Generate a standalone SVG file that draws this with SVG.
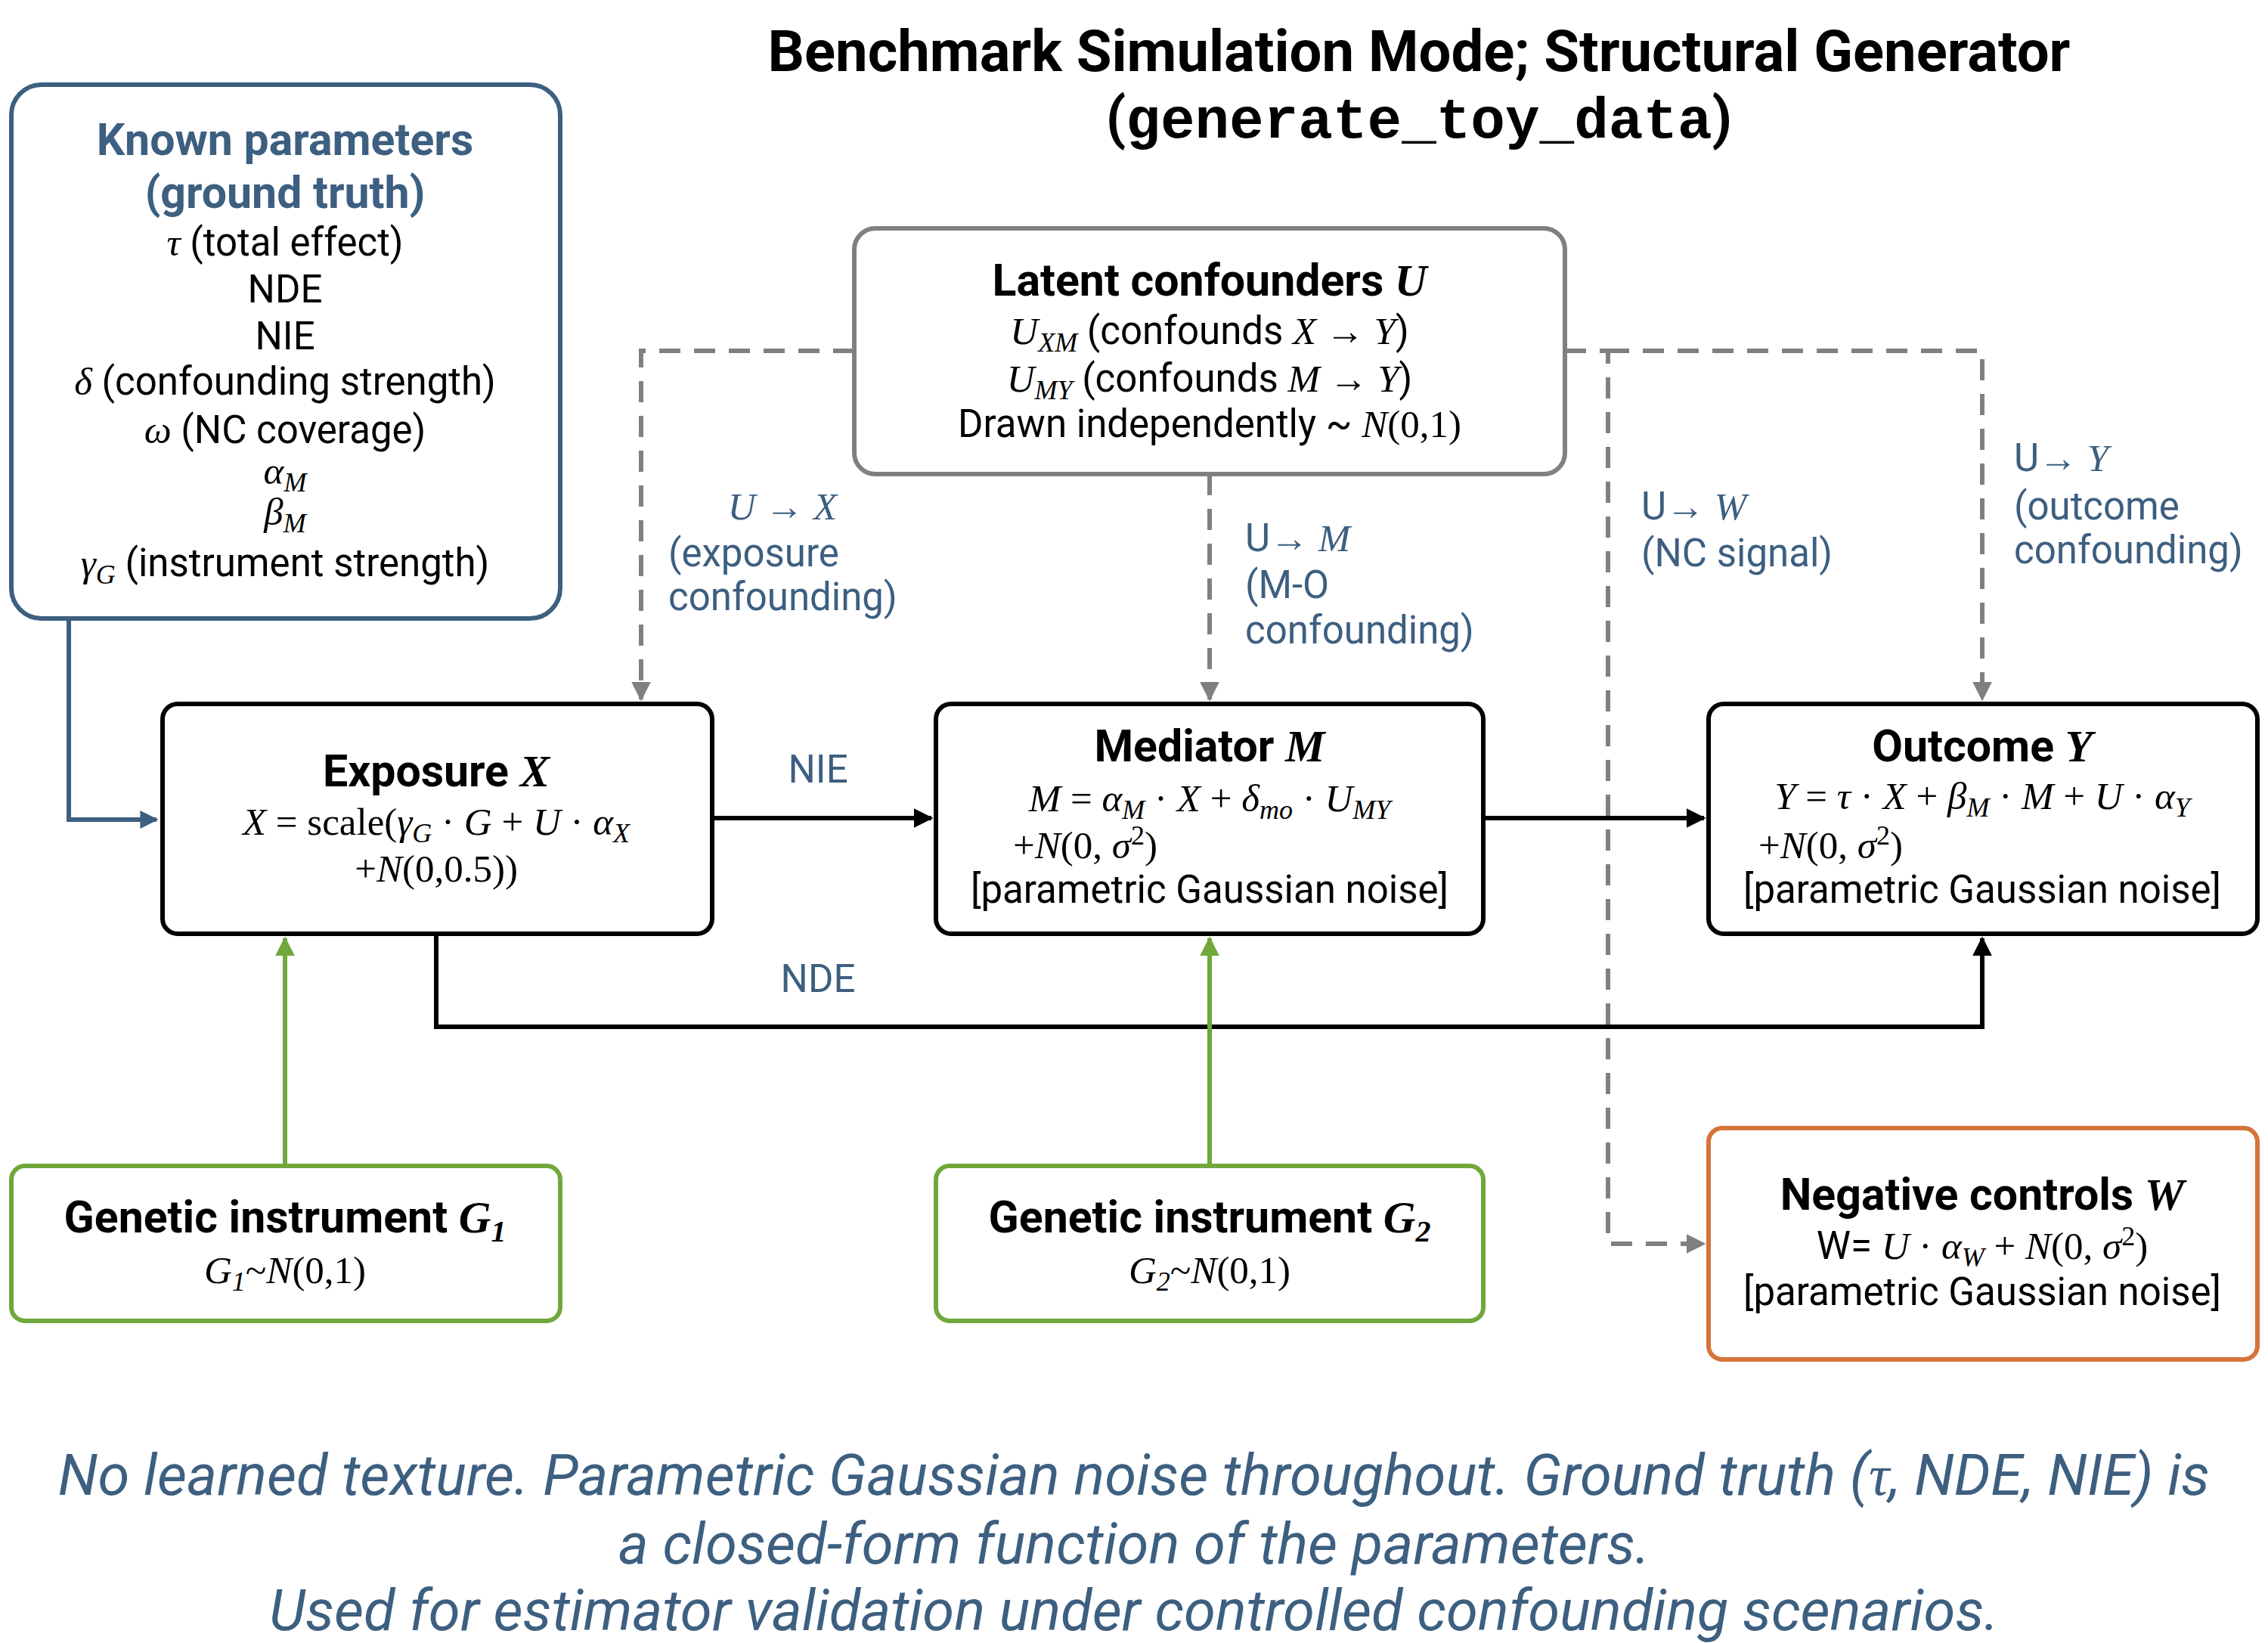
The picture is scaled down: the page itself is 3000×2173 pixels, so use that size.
<svg xmlns="http://www.w3.org/2000/svg" width="3000" height="2173" viewBox="0 0 3000 2173">
<style>
text{font-family:Roboto,"Liberation Sans",sans-serif;font-size:51px;fill:#000;text-anchor:middle}
.m{font-family:"Liberation Serif","DejaVu Serif",serif;font-style:italic}
.n{font-family:"Liberation Serif","DejaVu Serif",serif;font-style:normal}
.b{font-weight:bold;font-size:59px}
.bl{fill:#3d5f80}
.l{text-anchor:start}
.f{font-style:italic;font-size:76px}
.t{font-weight:bold;font-size:76px}
.box{fill:#fff;stroke-width:6}
.ln{fill:none;stroke-width:6}
</style>
<defs>
<marker id="ab" viewBox="0 0 10 10" refX="9" refY="5" markerWidth="24" markerHeight="24" markerUnits="userSpaceOnUse" orient="auto"><path d="M0,0L10,5L0,10z" fill="#3d5f80"/></marker>
<marker id="abk" viewBox="0 0 10 10" refX="9" refY="5" markerWidth="26" markerHeight="26" markerUnits="userSpaceOnUse" orient="auto"><path d="M0,0L10,5L0,10z" fill="#000"/></marker>
<marker id="ag" viewBox="0 0 10 10" refX="9" refY="5" markerWidth="26" markerHeight="26" markerUnits="userSpaceOnUse" orient="auto"><path d="M0,0L10,5L0,10z" fill="#808080"/></marker>
<marker id="agr" viewBox="0 0 10 10" refX="9" refY="5" markerWidth="26" markerHeight="26" markerUnits="userSpaceOnUse" orient="auto"><path d="M0,0L10,5L0,10z" fill="#70a83c"/></marker>
</defs>
<rect width="3000" height="2173" fill="#fff"/>
<g id="title">
<text x="1877" y="94" class="t">Benchmark Simulation Mode; Structural Generator</text>
<text x="1877" y="182" class="t">(<tspan style="font-family:'Liberation Mono',monospace">generate_toy_data</tspan>)</text>
</g>
<g id="connectors">
<path class="ln" d="M91,818V1084H207" stroke="#3d5f80" marker-end="url(#ab)"/>
<path class="ln" d="M1130,464H848V925" stroke="#808080" stroke-dasharray="28,18" marker-end="url(#ag)"/>
<path class="ln" d="M1600,627V925" stroke="#808080" stroke-dasharray="28,18" marker-end="url(#ag)"/>
<path class="ln" d="M2070,464H2127V1645H2254" stroke="#808080" stroke-dasharray="28,18" marker-end="url(#ag)"/>
<path class="ln" d="M2127,464H2622V925" stroke="#808080" stroke-dasharray="28,18" marker-end="url(#ag)"/>
<path class="ln" d="M942,1082H1232" stroke="#000" marker-end="url(#abk)"/>
<path class="ln" d="M1962,1082H2254" stroke="#000" marker-end="url(#abk)"/>
<path class="ln" d="M577,1235V1358H2622V1241" stroke="#000" marker-end="url(#abk)"/>
<path class="ln" d="M377,1542V1241" stroke="#70a83c" stroke-width="5" marker-end="url(#agr)"/>
<path class="ln" d="M1600,1542V1241" stroke="#70a83c" stroke-width="5" marker-end="url(#agr)"/>
<text x="1082" y="1035" class="bl">NIE</text>
<text x="1082" y="1312" class="bl">NDE</text>
<text x="1035" y="687" class="bl"><tspan class="m">U</tspan> → <tspan class="m">X</tspan></text>
<text x="884" y="749" class="bl l">(exposure</text>
<text x="884" y="807" class="bl l">confounding)</text>
<text x="1647" y="729" class="bl l">U→ <tspan class="m">M</tspan></text>
<text x="1647" y="791" class="bl l">(M-O</text>
<text x="1647" y="851" class="bl l">confounding)</text>
<text x="2171" y="687" class="bl l">U→ <tspan class="m">W</tspan></text>
<text x="2171" y="749" class="bl l">(NC signal)</text>
<text x="2664" y="623" class="bl l">U→ <tspan class="m">Y</tspan></text>
<text x="2664" y="687" class="bl l">(outcome</text>
<text x="2664" y="745" class="bl l">confounding)</text>
</g>
<g id="known">
<rect class="box" x="15" y="112" width="726" height="706" rx="40" stroke="#3d5f80"/>
<text x="377" y="205" class="b bl">Known parameters</text>
<text x="377" y="275" class="b bl">(ground truth)</text>
<text x="377" y="338"><tspan class="m">τ</tspan> (total effect)</text>
<text x="377" y="400">NDE</text>
<text x="377" y="462">NIE</text>
<text x="377" y="522"><tspan class="m">δ</tspan> (confounding strength)</text>
<text x="377" y="586"><tspan class="m">ω</tspan> (NC coverage)</text>
<text x="377" y="640" class="m">α<tspan font-size="36" dy="10">M</tspan></text>
<text x="377" y="694" class="m">β<tspan font-size="36" dy="10">M</tspan></text>
<text x="377" y="762"><tspan class="m">γ<tspan font-size="36" dy="10">G</tspan></tspan><tspan dy="-10"> (instrument strength)</tspan></text>
</g>
<g id="latent">
<rect class="box" x="1130" y="302" width="940" height="325" rx="28" stroke="#808080"/>
<text x="1600" y="391" class="b">Latent confounders <tspan class="m">U</tspan></text>
<text x="1600" y="455"><tspan class="m">U<tspan font-size="36" dy="10">XM</tspan></tspan><tspan dy="-10"> (confounds </tspan><tspan class="m">X</tspan> → <tspan class="m">Y</tspan>)</text>
<text x="1600" y="518"><tspan class="m">U<tspan font-size="36" dy="10">MY</tspan></tspan><tspan dy="-10"> (confounds </tspan><tspan class="m">M</tspan> → <tspan class="m">Y</tspan>)</text>
<text x="1600" y="578">Drawn independently ~ <tspan class="m">N</tspan><tspan class="n">(0,1)</tspan></text>
</g>
<g id="exposure">
<rect class="box" x="215" y="931" width="727" height="304" rx="20" stroke="#000"/>
<text x="577" y="1040" class="b">Exposure <tspan class="m">X</tspan></text>
<text x="577" y="1104" class="m">X <tspan class="n">= scale(</tspan>γ<tspan font-size="36" dy="10">G</tspan><tspan dy="-10" class="n"> · </tspan>G <tspan class="n">+</tspan> U <tspan class="n">·</tspan> α<tspan font-size="36" dy="10">X</tspan></text>
<text x="577" y="1166" class="n">+<tspan class="m">N</tspan>(0,0.5))</text>
</g>
<g id="mediator">
<rect class="box" x="1238" y="931" width="724" height="304" rx="20" stroke="#000"/>
<text x="1600" y="1007" class="b">Mediator <tspan class="m">M</tspan></text>
<text x="1600" y="1073" class="m">M <tspan class="n">=</tspan> α<tspan font-size="36" dy="10">M</tspan><tspan dy="-10" class="n"> · </tspan>X <tspan class="n">+</tspan> δ<tspan font-size="36" dy="10">mo</tspan><tspan dy="-10" class="n"> · </tspan>U<tspan font-size="36" dy="10">MY</tspan></text>
<text x="1340" y="1135" class="n l">+<tspan class="m">N</tspan>(0, <tspan class="m">σ</tspan><tspan font-size="36" dy="-18">2</tspan><tspan dy="18">)</tspan></text>
<text x="1600" y="1194">[parametric Gaussian noise]</text>
</g>
<g id="outcome">
<rect class="box" x="2260" y="931" width="726" height="304" rx="20" stroke="#000"/>
<text x="2622" y="1007" class="b">Outcome <tspan class="m">Y</tspan></text>
<text x="2622" y="1070" class="m">Y <tspan class="n">=</tspan> τ <tspan class="n">·</tspan> X <tspan class="n">+</tspan> β<tspan font-size="36" dy="10">M</tspan><tspan dy="-10" class="n"> · </tspan>M <tspan class="n">+</tspan> U <tspan class="n">·</tspan> α<tspan font-size="36" dy="10">Y</tspan></text>
<text x="2326" y="1135" class="n l">+<tspan class="m">N</tspan>(0, <tspan class="m">σ</tspan><tspan font-size="36" dy="-18">2</tspan><tspan dy="18">)</tspan></text>
<text x="2622" y="1194">[parametric Gaussian noise]</text>
</g>
<g id="g1">
<rect class="box" x="15" y="1542" width="726" height="205" rx="18" stroke="#70a83c"/>
<text x="377" y="1630" class="b">Genetic instrument <tspan class="m">G<tspan font-size="40" dy="12">1</tspan></tspan></text>
<text x="377" y="1697" class="m">G<tspan font-size="36" dy="10">1</tspan><tspan dy="-10" class="n">~</tspan>N<tspan class="n">(0,1)</tspan></text>
</g>
<g id="g2">
<rect class="box" x="1238" y="1542" width="724" height="205" rx="18" stroke="#70a83c"/>
<text x="1600" y="1630" class="b">Genetic instrument <tspan class="m">G<tspan font-size="40" dy="12">2</tspan></tspan></text>
<text x="1600" y="1697" class="m">G<tspan font-size="36" dy="10">2</tspan><tspan dy="-10" class="n">~</tspan>N<tspan class="n">(0,1)</tspan></text>
</g>
<g id="negative">
<rect class="box" x="2260" y="1492" width="726" height="306" rx="18" stroke="#d5733a"/>
<text x="2622" y="1600" class="b">Negative controls <tspan class="m">W</tspan></text>
<text x="2622" y="1665">W= <tspan class="m">U</tspan><tspan class="n"> · </tspan><tspan class="m">α<tspan font-size="36" dy="10">W</tspan></tspan><tspan dy="-10" class="n"> + </tspan><tspan class="m">N</tspan><tspan class="n">(0, </tspan><tspan class="m">σ</tspan><tspan font-size="36" dy="-18" class="n">2</tspan><tspan dy="18" class="n">)</tspan></text>
<text x="2622" y="1726">[parametric Gaussian noise]</text>
</g>
<g id="footer">
<text x="1500" y="1977" class="bl f">No learned texture. Parametric Gaussian noise throughout. Ground truth (<tspan class="m">τ</tspan>, NDE, NIE) is</text>
<text x="1500" y="2068" class="bl f">a closed-form function of the parameters.</text>
<text x="1500" y="2156" class="bl f">Used for estimator validation under controlled confounding scenarios.</text>
</g>
</svg>
